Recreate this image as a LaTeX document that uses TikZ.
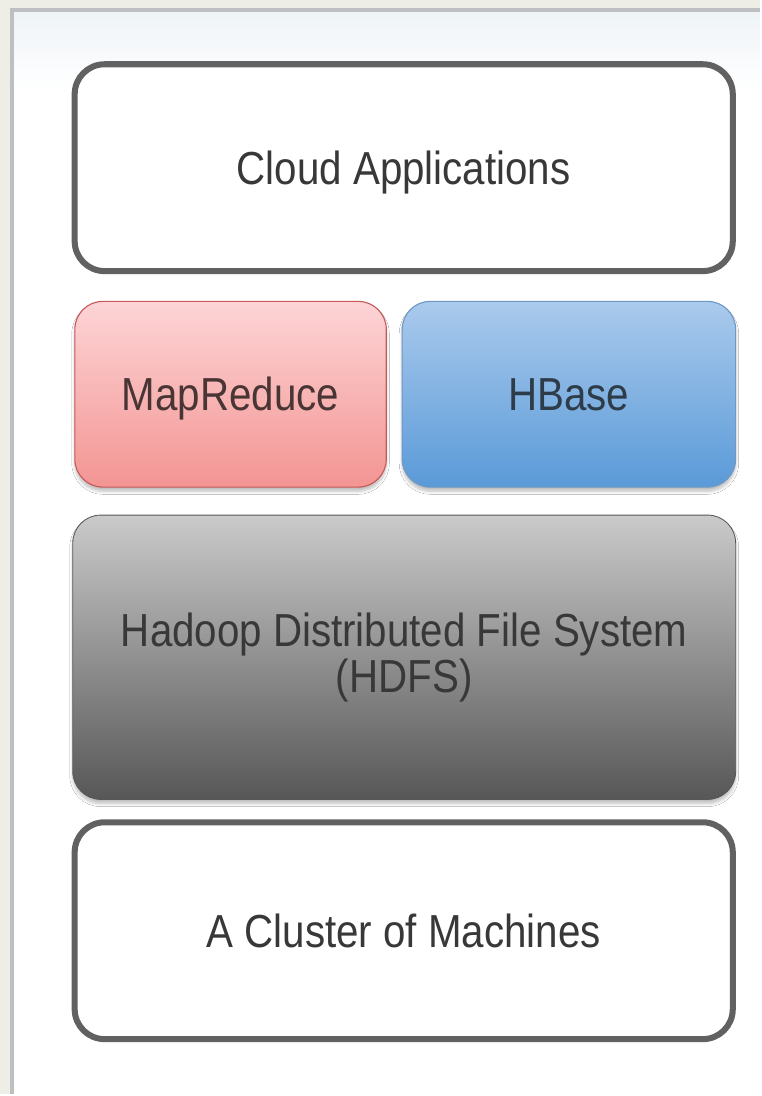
\documentclass[tikz,border=0pt]{standalone}
\usepackage{fontspec}
\setmainfont{Liberation Sans}[FakeStretch=0.87]
\usepackage{xcolor}
\usetikzlibrary{shadows.blur}

\definecolor{pagebg}{HTML}{EFEEE6}
\definecolor{panelline}{HTML}{BDBFC0}
\definecolor{paneltop}{HTML}{EEF3F6}
\definecolor{outline}{HTML}{616161}
\definecolor{txt}{HTML}{383838}
\definecolor{mrtop}{HTML}{FDD4D6}
\definecolor{mrbot}{HTML}{F39593}
\definecolor{mrline}{HTML}{C65A5A}
\definecolor{mrtext}{HTML}{4A3535}
\definecolor{hbtop}{HTML}{AACAEC}
\definecolor{hbbot}{HTML}{5A9AD8}
\definecolor{hbline}{HTML}{6F98C4}
\definecolor{hbtext}{HTML}{2E3B48}
\definecolor{fstop}{HTML}{CACACA}
\definecolor{fsbot}{HTML}{575757}

\begin{document}
\begin{tikzpicture}[
    x=0.025cm, y=-0.025cm,
    layer/.style={draw=outline, line width=4.3pt, fill=white, rounded corners=0.75cm,
      align=center, text=txt, font=\fontsize{33}{33}\selectfont,
      text height=23.6pt, text depth=0pt},
    block/.style={rounded corners=0.7cm, align=center, text=txt,
      font=\fontsize{33}{33}\selectfont,
      blur shadow={shadow xshift=0pt, shadow yshift=-3pt, shadow blur steps=6, shadow opacity=25}}
  ]
    % page and panel
    \fill[pagebg] (0,0) rectangle (761,1096);
    \fill[white] (12,8) rectangle (761,1096);
    \shade[top color=paneltop, bottom color=white] (12,10) rectangle (761,90);
    \draw[panelline, line width=3pt] (12,1096) -- (12,10) -- (761,10);
    \useasboundingbox (0,0) rectangle (761,1096);

    % Layers
    \node[layer, minimum width=16.48cm, minimum height=5.18cm] (cloud) at (404.5,168) {Cloud Applications};

    \node[block, draw=mrline, line width=0.8pt, top color=mrtop, bottom color=mrbot,
      minimum width=7.8cm, minimum height=4.65cm, text=mrtext,
      text height=23.6pt, text depth=0pt] (mapred) at (231,395) {MapReduce};
    \node[block, draw=hbline, line width=0.8pt, top color=hbtop, bottom color=hbbot,
      minimum width=8.35cm, minimum height=4.65cm, text=hbtext,
      text height=23.6pt, text depth=0pt] (hbase) at (570,395) {HBase};

    \node[block, draw=fsbot, line width=0.6pt, top color=fstop, bottom color=fsbot,
      minimum width=16.6cm, minimum height=7.12cm, text=black!78] (hdfs) at (405,658.5)
      {Hadoop Distributed File System\\(HDFS)};

    \node[layer, minimum width=16.48cm, minimum height=5.43cm] (cluster) at (404.5,932.5) {A Cluster of Machines};
  \end{tikzpicture}
\end{document}
